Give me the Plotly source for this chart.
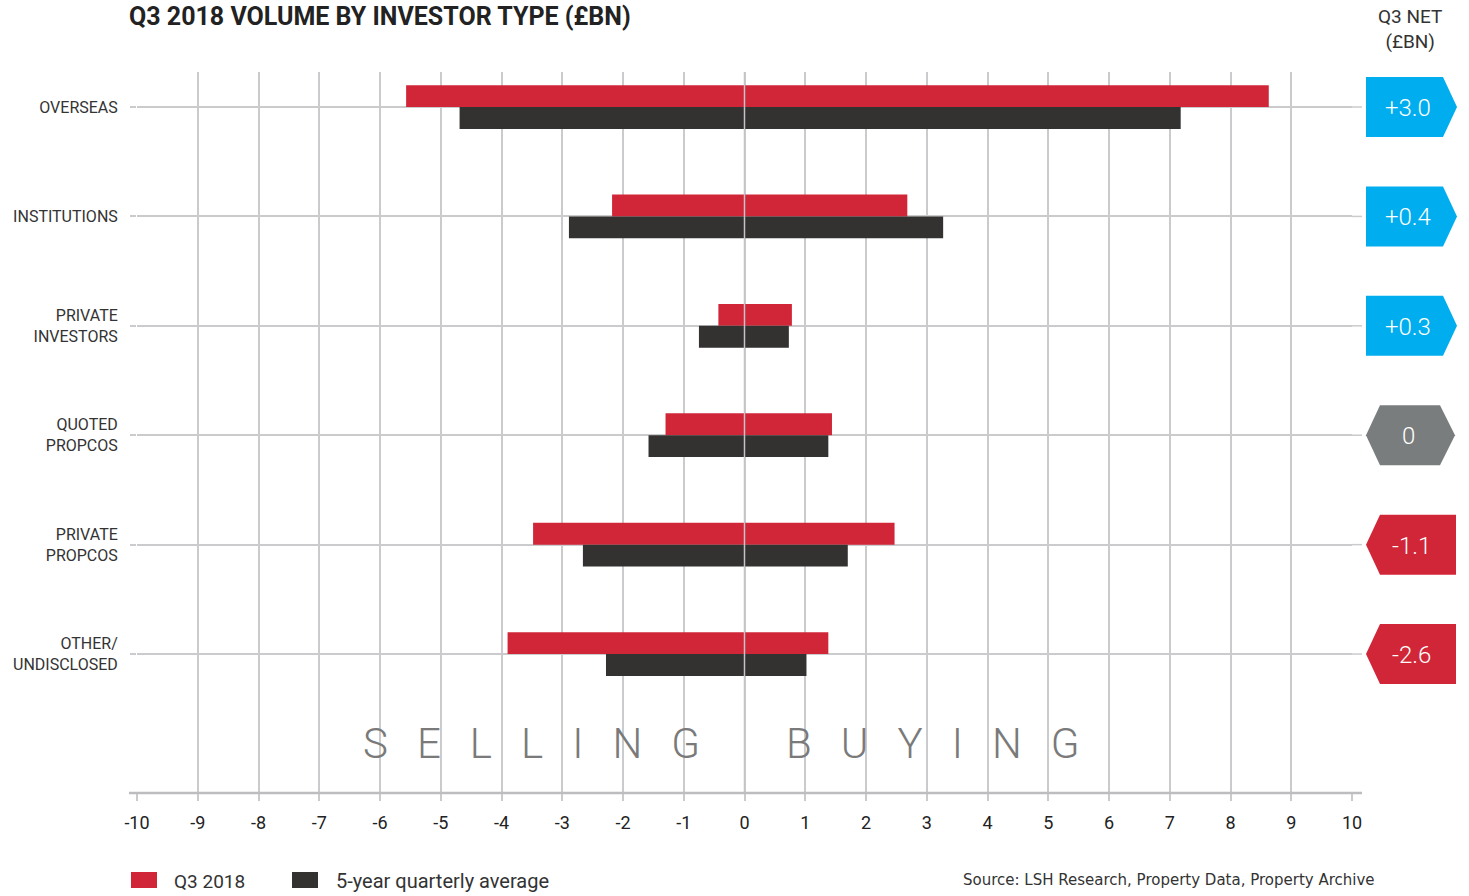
import plotly.graph_objects as go

categories = ["OVERSEAS", "INSTITUTIONS", "PRIVATE<br>INVESTORS", "QUOTED<br>PROPCOS",
              "PRIVATE<br>PROPCOS", "OTHER/<br>UNDISCLOSED"]
q3_sell = [-5.57, -2.18, -0.43, -1.30, -3.48, -3.90]
q3_buy = [8.63, 2.68, 0.78, 1.44, 2.47, 1.38]
avg_sell = [-4.69, -2.89, -0.75, -1.58, -2.66, -2.28]
avg_buy = [7.18, 3.27, 0.73, 1.38, 1.70, 1.02]
net_labels = ["+3.0", "+0.4", "+0.3", "0", "-1.1", "-2.6"]
net_values = [3.0, 0.4, 0.3, 0.0, -1.1, -2.6]
x_ticks = list(range(-10, 11))

RED = "#D12638"
DARK = "#333231"
BLUE = "#00AEEF"
GREYB = "#7A7D7E"
GRID = "#CBCBCD"
FONT = "Roboto"

fig = go.Figure()
fig.add_trace(go.Bar(
    y=categories, x=[b - s for s, b in zip(q3_sell, q3_buy)], base=q3_sell,
    orientation="h", marker=dict(color=RED, line=dict(width=0)), name="Q3 2018",
    offsetgroup="q3", showlegend=False))
fig.add_trace(go.Bar(
    y=categories, x=[b - s for s, b in zip(avg_sell, avg_buy)], base=avg_sell,
    orientation="h", marker=dict(color=DARK, line=dict(width=0)), name="5-year quarterly average",
    offsetgroup="avg", showlegend=False))

shapes = []
annotations = []
# zero line on top of bars
shapes.append(dict(type="line", xref="x", yref="paper", x0=0, x1=0, y0=0, y1=1,
                   line=dict(color="#C4C4C8", width=1.5), layer="above"))
# axis line
shapes.append(dict(type="line", xref="paper", yref="paper", x0=-0.0066, x1=1.0082, y0=0, y1=0,
                   line=dict(color="#BDBDBF", width=2.5), layer="above"))
# right extension of category lines
for c in categories:
    shapes.append(dict(type="line", xref="paper", yref="y", x0=1.0, x1=1.0082, y0=c, y1=c,
                       line=dict(color=GRID, width=1.5), layer="below"))

# net badges
for c, lab, v in zip(categories, net_labels, net_values):
    if v > 0:
        path = "M 14 -30 L 91 -30 L 105 0 L 91 30 L 14 30 Z"
        col = BLUE
        xs = 56
    elif v < 0:
        path = "M 14 0 L 28 -30 L 104 -30 L 104 30 L 28 30 Z"
        col = RED
        xs = 59
    else:
        path = "M 14 0 L 28 -30 L 88 -30 L 103 0 L 88 30 L 28 30 Z"
        col = GREYB
        xs = 56
    shapes.append(dict(type="path", xref="paper", yref="y", xsizemode="pixel", ysizemode="pixel",
                       xanchor=1, yanchor=c, path=path, fillcolor=col, line=dict(width=0),
                       layer="above"))
    annotations.append(dict(xref="paper", yref="y", x=1, y=c, xshift=xs, yshift=-1, text=lab,
                            showarrow=False, xanchor="center", yanchor="middle",
                            font=dict(family=FONT, size=24, color="white", weight=300)))

# title and headers
annotations.append(dict(xref="paper", yref="paper", x=-0.0082, y=1.0, yshift=56, text="<b>Q3 2018 VOLUME BY INVESTOR TYPE (£BN)</b>",
                        showarrow=False, xanchor="left", yanchor="middle",
                        font=dict(family=FONT, size=25, color="#222222")))
annotations.append(dict(xref="paper", yref="paper", x=1, xshift=58, y=1.0, yshift=43, text="Q3 NET<br>(£BN)",
                        showarrow=False, xanchor="center", yanchor="middle",
                        font=dict(family=FONT, size=19, color="#333333")))

# SELLING / BUYING
sp = "\u00a0\u00a0\u2009"
annotations.append(dict(xref="x", yref="paper", x=-3.5, y=0, yshift=50, text=sp.join("SELLING"),
                        showarrow=False, xanchor="center", yanchor="middle",
                        font=dict(family=FONT, size=42, color="#7A7A7A", weight=300)))
annotations.append(dict(xref="x", yref="paper", x=3.11, y=0, yshift=50, text=sp.join("BUYING"),
                        showarrow=False, xanchor="center", yanchor="middle",
                        font=dict(family=FONT, size=42, color="#7A7A7A", weight=300)))

# legend (custom)
shapes.append(dict(type="rect", xref="paper", yref="paper", x0=(131 - 137) / 1215, x1=(157 - 137) / 1215,
                   y0=-(872 - 793) / 721, y1=-(888 - 793) / 721, fillcolor=RED, line=dict(width=0)))
shapes.append(dict(type="rect", xref="paper", yref="paper", x0=(292 - 137) / 1215, x1=(318 - 137) / 1215,
                   y0=-(872 - 793) / 721, y1=-(888 - 793) / 721, fillcolor=DARK, line=dict(width=0)))
annotations.append(dict(xref="paper", yref="paper", x=(172 - 137) / 1215, y=-(881 - 793) / 721,
                        text="Q3 2018", showarrow=False, xanchor="left", yanchor="middle",
                        font=dict(family=FONT, size=19, color="#333333")))
annotations.append(dict(xref="paper", yref="paper", x=(334 - 137) / 1215, y=-(881 - 793) / 721,
                        text="5-year quarterly average", showarrow=False, xanchor="left", yanchor="middle",
                        font=dict(family=FONT, size=20, color="#333333")))
annotations.append(dict(xref="paper", yref="paper", x=(1377 - 137) / 1215, y=-(880 - 793) / 721,
                        text="Source: LSH Research, Property Data, Property Archive", showarrow=False,
                        xanchor="right", yanchor="middle",
                        font=dict(family="DejaVu Sans", size=15, color="#333333")))

fig.update_layout(
    width=1469, height=896,
    margin=dict(l=137, r=117, t=72, b=103),
    paper_bgcolor="white", plot_bgcolor="white",
    barmode="group", bargap=0.6, bargroupgap=0,
    shapes=shapes, annotations=annotations,
    font=dict(family=FONT, color="#222222"),
)
fig.update_xaxes(range=[-10, 10], tickvals=x_ticks, ticktext=[str(t) for t in x_ticks],
                 showgrid=True, gridcolor=GRID, gridwidth=1.5, zeroline=False, showline=False,
                 ticks="outside", ticklen=7, tickcolor=GRID, tickwidth=1.5, ticklabelstandoff=6,
                 tickfont=dict(family=FONT, size=18, color="#222222"), fixedrange=True)
fig.update_yaxes(categoryorder="array", categoryarray=categories, range=[5.5 + 0.77, -0.32],
                 showgrid=True, gridcolor=GRID, gridwidth=1.5, zeroline=False, showline=False,
                 ticks="outside", ticklen=6, tickcolor=GRID, tickwidth=1.5, ticklabelstandoff=9,
                 tickfont=dict(family=FONT, size=16, color="#333333"), fixedrange=True)

fig.write_html("out.html", config={"displayModeBar": False},
               post_script="document.body.style.margin='0';document.body.style.overflow='hidden';")
